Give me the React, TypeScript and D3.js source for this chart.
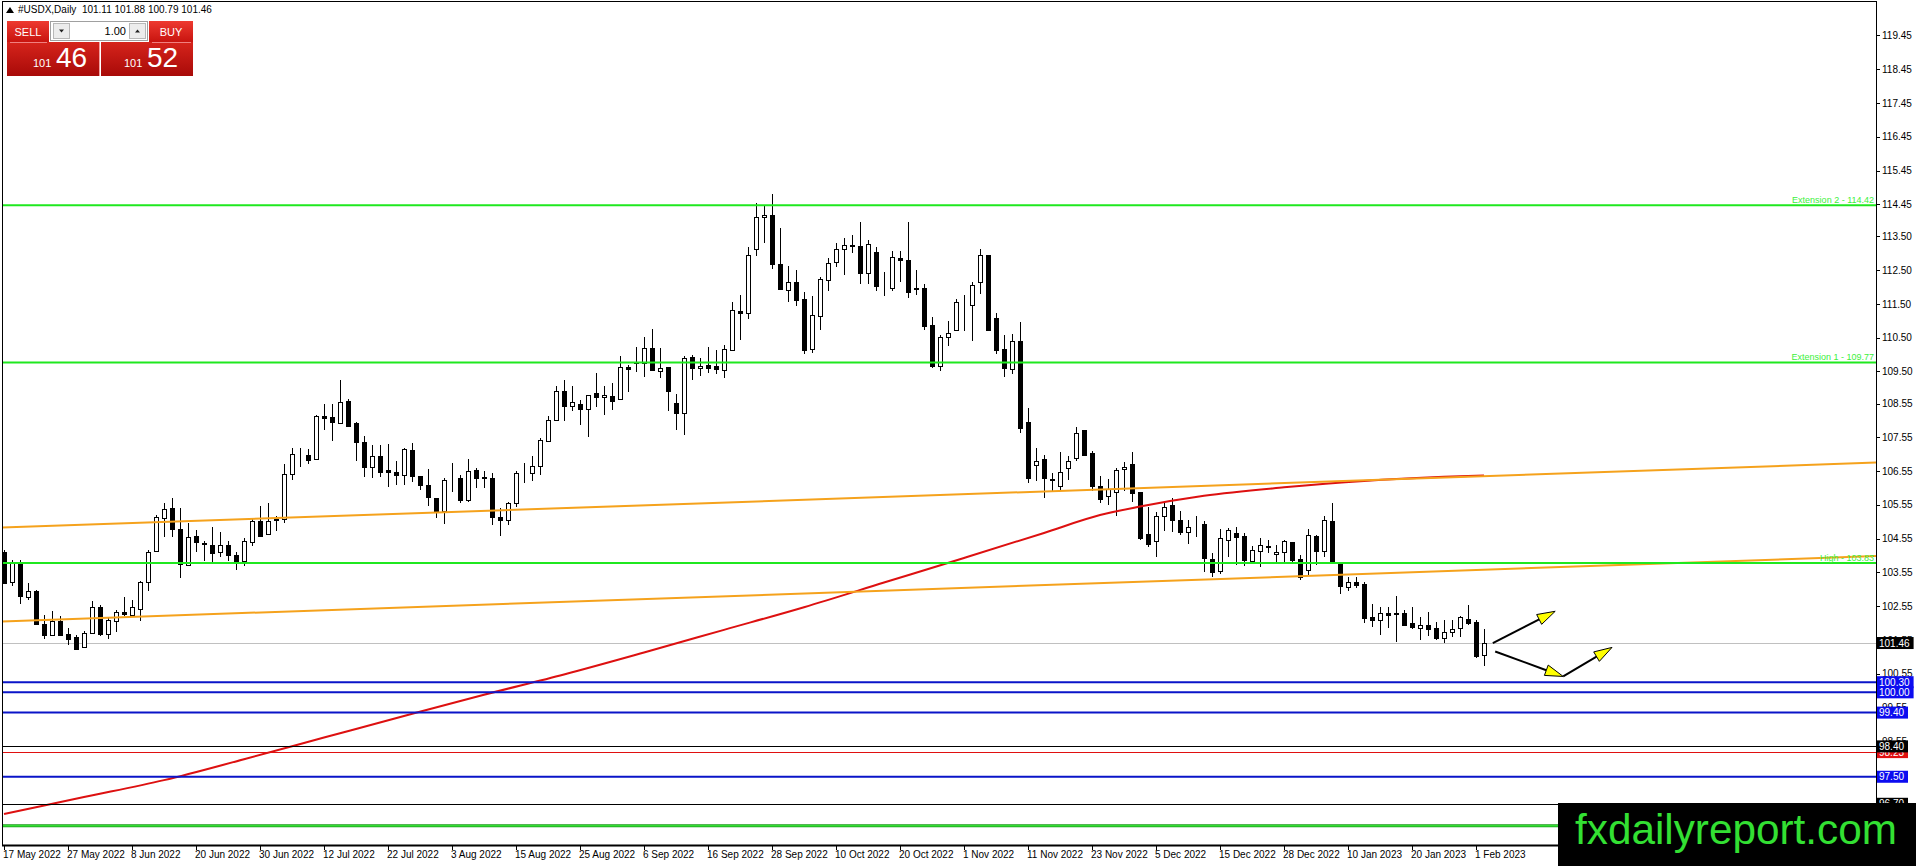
import * as React from 'react';
import * as d3 from 'd3';

// Chart frame (MT4 style window)
const W = 1916
const H = 866
const frame = { left: 2, top: 1, right: 1876, bottom: 845 }
const font = '"Liberation Sans", Arial, sans-serif'

// Daily candles, 17 May 2022 .. 2 Feb 2023 (bar index = position)
const opens = [
  104.17, 103.26, 103.87, 102.82, 103.01, 102.03, 101.70, 102.10, 101.72, 101.64,
  101.33, 101.75, 102.52, 101.72, 102.12, 102.37, 102.28, 102.48, 103.26, 104.19,
  105.15, 105.45, 104.83, 103.76, 104.64, 104.42, 104.36, 104.17, 104.36, 104.07,
  103.90, 104.45, 105.08, 104.68, 105.12, 105.14, 106.46, 107.04, 107.03, 106.92,
  108.19, 108.15, 107.98, 108.62, 107.98, 107.41, 106.66, 107.01, 106.57, 106.52,
  106.43, 107.19, 106.42, 106.15, 105.76, 105.36, 106.31, 106.34, 105.70, 106.59,
  106.38, 106.35, 105.20, 105.10, 105.60, 106.50, 106.48, 106.70, 107.45, 108.05,
  108.93, 108.47, 108.55, 108.39, 108.86, 108.75, 108.78, 108.69, 109.63, 109.77,
  109.75, 110.20, 109.51, 109.63, 108.57, 108.27, 109.93, 109.60, 109.70, 109.65,
  109.54, 110.15, 111.29, 111.23, 113.13, 114.08, 114.12, 112.68, 111.92, 112.15,
  111.66, 110.17, 111.15, 112.22, 112.73, 113.13, 113.24, 113.23, 112.42, 113.04,
  112.04, 111.97, 112.86, 112.81, 111.97, 111.97, 110.89, 109.65, 110.52, 110.74,
  111.50, 111.48, 112.14, 112.96, 111.08, 110.17, 109.57, 110.39, 107.99, 106.74,
  106.91, 106.33, 106.10, 106.64, 106.94, 107.76, 107.09, 106.10, 105.80, 105.92,
  106.61, 106.76, 105.92, 104.69, 104.47, 105.21, 105.55, 105.11, 104.76, 104.96,
  104.99, 103.94, 103.58, 104.52, 104.71, 104.63, 103.90, 104.19, 104.32, 104.10,
  104.15, 104.45, 103.94, 103.63, 104.64, 104.19, 105.08, 103.87, 103.13, 103.28,
  103.21, 102.23, 102.13, 102.34, 102.36, 102.34, 102.05, 101.90, 101.98, 101.90,
  101.60, 101.78, 101.90, 102.18, 102.08, 101.11,
]
const highs = [
  104.20, 103.92, 103.92, 103.24, 103.03, 102.30, 102.42, 102.25, 101.90, 101.70,
  101.83, 102.71, 102.59, 102.23, 102.44, 102.81, 102.74, 103.30, 104.22, 105.26,
  105.60, 105.75, 105.45, 105.01, 104.81, 104.47, 104.91, 104.74, 104.47, 104.16,
  104.57, 105.13, 105.52, 105.60, 105.23, 106.76, 107.23, 107.23, 107.20, 108.22,
  108.55, 108.55, 109.26, 108.70, 108.00, 107.60, 107.31, 107.31, 107.34, 106.85,
  107.24, 107.39, 106.42, 106.62, 105.76, 106.35, 106.79, 106.44, 106.91, 106.64,
  106.55, 106.50, 105.45, 105.65, 106.55, 106.80, 107.00, 107.53, 108.19, 109.08,
  109.26, 109.08, 108.67, 108.81, 109.46, 109.06, 109.16, 109.97, 109.70, 110.23,
  110.52, 110.76, 110.20, 109.63, 108.83, 109.97, 110.00, 109.90, 110.23, 110.15,
  110.27, 111.55, 111.77, 113.18, 114.49, 114.39, 114.77, 113.75, 112.63, 112.52,
  111.85, 111.73, 112.29, 112.86, 113.31, 113.45, 113.55, 113.92, 113.40, 113.19,
  112.44, 113.08, 113.08, 113.92, 112.52, 112.09, 111.11, 110.59, 110.99, 111.66,
  111.76, 112.14, 113.14, 112.96, 111.23, 110.59, 110.61, 110.97, 108.42, 107.24,
  107.04, 106.50, 107.11, 107.01, 107.86, 107.76, 107.14, 106.40, 106.31, 106.64,
  106.82, 107.12, 105.92, 105.48, 105.35, 105.65, 105.75, 105.38, 105.11, 105.23,
  105.06, 104.12, 104.83, 104.86, 104.89, 104.73, 104.32, 104.56, 104.52, 104.37,
  104.52, 104.45, 104.07, 104.83, 104.66, 105.23, 105.60, 103.87, 103.41, 103.41,
  103.28, 102.62, 102.52, 102.52, 102.86, 102.44, 102.52, 102.22, 102.39, 102.07,
  102.15, 102.15, 102.26, 102.59, 102.15, 101.88,
]
const lows = [
  103.20, 103.14, 102.61, 102.74, 101.98, 101.58, 101.68, 101.68, 101.40, 101.24,
  101.31, 101.73, 101.67, 101.58, 101.80, 102.25, 102.25, 102.10, 102.99, 104.17,
  104.59, 104.60, 103.38, 103.76, 104.17, 103.90, 103.87, 104.02, 103.90, 103.61,
  103.73, 104.34, 104.62, 104.66, 104.78, 105.01, 106.29, 106.66, 106.76, 106.89,
  107.78, 107.43, 107.96, 107.88, 106.84, 106.37, 106.34, 106.37, 106.07, 106.15,
  106.15, 106.22, 106.00, 105.51, 105.16, 104.99, 105.92, 105.62, 105.65, 106.05,
  106.05, 104.95, 104.64, 104.95, 105.50, 106.20, 106.25, 106.45, 107.43, 108.03,
  108.03, 108.32, 107.93, 107.56, 108.45, 108.22, 108.35, 108.67, 108.88, 109.48,
  109.33, 109.51, 109.30, 108.32, 107.76, 107.63, 109.24, 109.38, 109.46, 109.44,
  109.31, 110.10, 110.42, 111.06, 112.91, 113.31, 112.54, 111.90, 111.55, 111.43,
  110.03, 110.05, 110.74, 111.89, 112.60, 112.37, 113.00, 112.10, 112.10, 111.87,
  111.73, 111.87, 112.14, 111.68, 111.77, 110.72, 109.60, 109.51, 110.25, 110.69,
  110.69, 110.39, 111.80, 110.69, 110.03, 109.34, 109.43, 107.68, 106.20, 106.25,
  105.75, 105.95, 106.00, 106.30, 106.84, 107.01, 105.95, 105.62, 105.55, 105.21,
  105.95, 105.65, 104.50, 104.29, 104.02, 104.79, 104.74, 104.66, 104.40, 104.61,
  103.55, 103.41, 103.51, 104.02, 103.77, 103.75, 103.84, 103.71, 104.12, 103.82,
  103.82, 103.82, 103.33, 103.43, 103.77, 104.02, 103.82, 102.91, 102.99, 103.10,
  102.05, 101.93, 101.70, 101.90, 101.48, 101.97, 101.88, 101.55, 101.67, 101.55,
  101.46, 101.63, 101.63, 102.00, 101.01, 100.79,
]
const closes = [
  103.23, 103.87, 102.84, 103.01, 102.02, 101.70, 102.10, 101.70, 101.58, 101.29,
  101.75, 102.52, 101.72, 102.15, 102.37, 102.31, 102.52, 103.26, 104.15, 105.19,
  105.43, 104.83, 103.81, 104.61, 104.45, 104.40, 104.14, 104.36, 104.08, 103.90,
  104.47, 105.08, 104.64, 105.08, 105.10, 106.46, 107.05, 107.02, 106.87, 108.19,
  108.13, 108.00, 108.60, 107.90, 107.40, 106.66, 107.01, 106.52, 106.53, 106.43,
  107.21, 106.42, 106.13, 105.78, 105.33, 106.30, 106.33, 105.70, 106.56, 106.34,
  106.35, 105.20, 105.10, 105.60, 106.50, 106.48, 106.70, 107.48, 108.05, 108.93,
  108.49, 108.60, 108.39, 108.81, 108.75, 108.81, 108.62, 109.63, 109.57, 109.74,
  110.20, 109.54, 109.60, 108.91, 108.27, 109.89, 109.60, 109.67, 109.60, 109.57,
  110.17, 111.31, 111.24, 112.96, 114.08, 114.14, 112.68, 111.94, 112.15, 111.61,
  110.13, 111.18, 112.25, 112.71, 113.13, 113.25, 113.23, 112.42, 113.28, 112.04,
  112.02, 112.89, 112.79, 111.84, 111.95, 110.84, 109.65, 110.52, 110.64, 111.56,
  111.50, 112.07, 112.94, 110.74, 110.15, 109.60, 110.39, 107.83, 106.35, 106.84,
  106.35, 106.30, 106.51, 106.84, 107.68, 107.04, 106.10, 105.72, 106.02, 106.59,
  106.67, 105.90, 104.58, 104.39, 105.23, 105.50, 105.09, 104.74, 104.89, 104.94,
  103.97, 103.55, 104.56, 104.81, 104.61, 103.92, 104.20, 104.37, 104.31, 104.17,
  104.47, 103.92, 103.41, 104.66, 104.19, 105.11, 103.87, 103.16, 103.26, 103.18,
  102.20, 102.13, 102.34, 102.29, 102.32, 101.99, 101.93, 101.98, 101.87, 101.60,
  101.78, 101.87, 102.22, 102.05, 101.09, 101.46,
]

// time axis labels, one every 8 bars
const dateLabels = [
  '17 May 2022', '27 May 2022', '8 Jun 2022', '20 Jun 2022', '30 Jun 2022', '12 Jul 2022',
  '22 Jul 2022', '3 Aug 2022', '15 Aug 2022', '25 Aug 2022', '6 Sep 2022', '16 Sep 2022',
  '28 Sep 2022', '10 Oct 2022', '20 Oct 2022', '1 Nov 2022', '11 Nov 2022', '23 Nov 2022',
  '5 Dec 2022', '15 Dec 2022', '28 Dec 2022', '10 Jan 2023', '20 Jan 2023', '1 Feb 2023',
]
const labelStep = 8

// price scale labels
const priceTicks = [
  119.45, 118.45, 117.45, 116.45, 115.45, 114.45, 113.50, 112.50, 111.50, 110.50,
  109.50, 108.55, 107.55, 106.55, 105.55, 104.55, 103.55, 102.55, 101.55, 100.55,
  99.55, 98.55, 97.55, 96.55,
]

// moving average read at a few bars
const maBars = [0, 10, 20, 30, 40, 50, 60, 70, 80, 90, 100, 110, 120, 130, 137, 142, 150, 160, 170, 180, 185]
const maValues = [96.40, 96.90, 97.40, 98.02, 98.66, 99.30, 99.93, 100.53, 101.18, 101.85, 102.52,
  103.25, 103.98, 104.72, 105.25, 105.50, 105.82, 106.07, 106.26, 106.38, 106.42]

// trend lines: two anchors (bar, price)
const upperTrendBars = [0, 185]
const upperTrendPrices = [104.88, 106.40]
const lowerTrendBars = [0, 185]
const lowerTrendPrices = [102.10, 103.63]

// horizontal levels
const greenLevels = [114.42, 109.77, 103.83]
const greenNames = ['Extension 2', 'Extension 1', 'High']
const blueLevels = [100.30, 100.00, 99.40, 97.50]
const blackLevels = [98.40, 96.70]
const redLevels = [98.23]
const baseLevel = 96.05

// arrows: [fromBar, fromPrice, toBar, toPrice]
const arrows = [
  [186.1, 101.46, 193.9, 102.40],
  [186.4, 101.21, 194.9, 100.47],
  [194.9, 100.47, 201.0, 101.33],
]

const symbolText = '#USDX,Daily  101.11 101.88 100.79 101.46'
const bidPrice = ['101', '46']
const askPrice = ['101', '52']
const lotSize = '1.00'

const x = d3.scaleLinear().domain([0, 185]).range([4, 1484])
const y = d3.scaleLinear().domain([95.45, 120.5]).range([846, 0])

const crisp = (v: number) => Math.round(v) + 0.5

const Arrow = ({ a }: { a: number[] }) => {
  const x0 = x(a[0]), y0 = y(a[1]), x1 = x(a[2]), y1 = y(a[3])
  const ang = Math.atan2(y1 - y0, x1 - x0)
  const len = 18, half = 5.5
  const bx = x1 - len * Math.cos(ang), by = y1 - len * Math.sin(ang)
  const px = -Math.sin(ang) * half, py = Math.cos(ang) * half
  const head = `M${x1},${y1}L${bx + px},${by + py}L${bx - px},${by - py}Z`
  return (
    <g>
      <line x1={x0} y1={y0} x2={bx} y2={by} stroke="#000" strokeWidth={2} />
      <path d={head} fill="#ffff00" stroke="#000" strokeWidth={1} />
    </g>
  )
}

const PriceTag = ({ price, bg, fg }: { price: number, bg: string, fg: string }) => {
  const label = price.toFixed(2)
  const w = label.length * 5.6 + 3
  const cy = y(price)
  return (
    <g>
      <rect x={frame.right + 1} y={cy - 6} width={w} height={12} fill={bg} />
      <text x={frame.right + 3} y={cy} dy="0.36em" fill={fg} fontSize={10} fontFamily={font}>{label}</text>
    </g>
  )
}

const trendPath = (bars: number[], prices: number[]) => {
  const slope = (prices[1] - prices[0]) / (bars[1] - bars[0])
  const b0 = x.invert(frame.left), b1 = x.invert(frame.right)
  const p0 = prices[0] + (b0 - bars[0]) * slope
  const p1 = prices[0] + (b1 - bars[0]) * slope
  return `M${frame.left},${y(p0)}L${frame.right},${y(p1)}`
}

const TradePanel = () => (
  <g fontFamily={font}>
    <defs>
      <linearGradient id="redBtn" x1="0" y1="0" x2="0" y2="1">
        <stop offset="0" stopColor="#ee3a30" />
        <stop offset="1" stopColor="#c8140f" />
      </linearGradient>
      <linearGradient id="redBox" x1="0" y1="0" x2="0" y2="1">
        <stop offset="0" stopColor="#d6241c" />
        <stop offset="1" stopColor="#a80a08" />
      </linearGradient>
    </defs>
    <rect x={7} y={21} width={42} height={21} fill="url(#redBtn)" />
    <text x={28} y={35.5} textAnchor="middle" fill="#fff" fontSize={11}>SELL</text>
    <rect x={149} y={21} width={44} height={21} fill="url(#redBtn)" />
    <text x={171} y={35.5} textAnchor="middle" fill="#fff" fontSize={11}>BUY</text>
    <rect x={50.5} y={21.5} width={97} height={19} fill="#fff" stroke="#a0a0a0" />
    <rect x={53.5} y={23.5} width={16} height={15} fill="#ececec" stroke="#b8b8b8" />
    <rect x={129.5} y={23.5} width={16} height={15} fill="#ececec" stroke="#b8b8b8" />
    <path d="M59,29.5L64,29.5L61.5,32.5Z" fill="#222" />
    <path d="M135,32.5L140,32.5L137.5,29.5Z" fill="#222" />
    <text x={126} y={35} textAnchor="end" fill="#000" fontSize={11}>{lotSize}</text>
    <rect x={7} y={42} width={92} height={34} fill="url(#redBox)" />
    <rect x={101} y={42} width={92} height={34} fill="url(#redBox)" />
    <line x1={10} x2={47} y1={42.5} y2={42.5} stroke="#f08080" />
    <line x1={152} x2={191} y1={42.5} y2={42.5} stroke="#f08080" />
    <line x1={99.5} x2={99.5} y1={42} y2={76} stroke="#f0a0a0" />
    <text x={33} y={67} fill="#fff" fontSize={11}>{bidPrice[0]}</text>
    <text x={56} y={67} fill="#fff" fontSize={28}>{bidPrice[1]}</text>
    <text x={124} y={67} fill="#fff" fontSize={11}>{askPrice[0]}</text>
    <text x={147} y={67} fill="#fff" fontSize={28}>{askPrice[1]}</text>
  </g>
)

const App = () => {
  const last = closes[closes.length - 1]
  const ma = d3.line<number>()
    .x((_, i) => x(maBars[i]))
    .y(d => y(d))
    .curve(d3.curveMonotoneX)

  return (
    <div style={{ position: 'absolute', left: 0, top: 0 }}>
      <svg width={W} height={H} style={{ display: 'block', background: '#fff' }}>
        <defs>
          <clipPath id="plot">
            <rect x={frame.left} y={frame.top} width={frame.right - frame.left} height={frame.bottom - frame.top} />
          </clipPath>
        </defs>

        <g clipPath="url(#plot)">
          {/* current price line */}
          <line x1={frame.left} x2={frame.right} y1={crisp(y(last))} y2={crisp(y(last))} stroke="#c0c0c0" />

          {/* candles */}
          <g shapeRendering="crispEdges">
            {opens.map((o, i) => {
              const c = closes[i]
              const cx = Math.round(x(i))
              const top = Math.round(y(Math.max(o, c)))
              const bot = Math.round(y(Math.min(o, c)))
              const bull = c >= o
              return (
                <g key={i}>
                  <line x1={cx + 0.5} x2={cx + 0.5} y1={y(highs[i])} y2={y(lows[i])} stroke="#000" />
                  <rect x={cx - 1.5} y={top + 0.5} width={4} height={Math.max(bot - top, 0)}
                    fill={bull ? '#fff' : '#000'} stroke="#000" />
                </g>
              )
            })}
          </g>

          {/* moving average */}
          <path d={ma(maValues) || ''} fill="none" stroke="#dd1010" strokeWidth={2} />

          {/* trend lines */}
          <path d={trendPath(upperTrendBars, upperTrendPrices)} stroke="#f5a21c" strokeWidth={2} fill="none" />
          <path d={trendPath(lowerTrendBars, lowerTrendPrices)} stroke="#f5a21c" strokeWidth={2} fill="none" />

          {/* horizontal levels */}
          {greenLevels.map((v, i) => (
            <g key={'g' + i}>
              <line x1={frame.left} x2={frame.right} y1={y(v)} y2={y(v)} stroke="#1fe81f" strokeWidth={2} />
              <text x={frame.right - 2} y={y(v) - 2} textAnchor="end" fill="#3cf03c" fontSize={9} fontFamily={font}>
                {greenNames[i] + ' - ' + v.toFixed(2)}
              </text>
            </g>
          ))}
          {blueLevels.map((v, i) => (
            <line key={'b' + i} x1={frame.left} x2={frame.right} y1={y(v)} y2={y(v)} stroke="#0a14c8" strokeWidth={2} />
          ))}
          {blackLevels.map((v, i) => (
            <line key={'k' + i} x1={frame.left} x2={frame.right} y1={crisp(y(v))} y2={crisp(y(v))} stroke="#000" />
          ))}
          {redLevels.map((v, i) => (
            <line key={'r' + i} x1={frame.left} x2={frame.right} y1={crisp(y(v))} y2={crisp(y(v))} stroke="#e01010" />
          ))}
          <line x1={frame.left} x2={frame.right} y1={y(baseLevel)} y2={y(baseLevel)} stroke="#1a9a1a" strokeWidth={3} />
          <line x1={frame.left} x2={frame.right} y1={y(baseLevel)} y2={y(baseLevel)} stroke="#33dd33" strokeWidth={1.4} />

          {/* arrows */}
          {arrows.map((a, i) => <Arrow key={'a' + i} a={a} />)}
        </g>

        {/* frame */}
        <rect x={frame.left + 0.5} y={frame.top + 0.5} width={frame.right - frame.left} height={frame.bottom - frame.top}
          fill="none" stroke="#000" />
        <line x1={frame.left} x2={frame.right} y1={frame.bottom + 0.5} y2={frame.bottom + 0.5} stroke="#000" strokeWidth={2} />

        {/* price axis */}
        <g fontFamily={font} fontSize={10} fill="#000">
          {priceTicks.map((v, i) => (
            <g key={'t' + i}>
              <line x1={frame.right} x2={frame.right + 4} y1={crisp(y(v))} y2={crisp(y(v))} stroke="#000" />
              <text x={frame.right + 6} y={y(v)} dy="0.36em">{v.toFixed(2)}</text>
            </g>
          ))}
        </g>

        {/* time axis */}
        <g fontFamily={font} fontSize={10} fill="#000">
          {dateLabels.map((d, i) => (
            <g key={'d' + i}>
              <line x1={crisp(x(i * labelStep))} x2={crisp(x(i * labelStep))} y1={frame.bottom} y2={frame.bottom + 5} stroke="#000" />
              <text x={x(i * labelStep) - 1} y={858}>{d}</text>
            </g>
          ))}
        </g>

        {/* price tags on the axis */}
        <PriceTag price={last} bg="#000" fg="#fff" />
        {blueLevels.map((v, i) => <PriceTag key={'bt' + i} price={v} bg="#0c0cf0" fg="#fff" />)}
        {redLevels.map((v, i) => <PriceTag key={'rt' + i} price={v} bg="#e01010" fg="#fff" />)}
        {blackLevels.map((v, i) => <PriceTag key={'kt' + i} price={v} bg="#000" fg="#fff" />)}

        {/* header */}
        <path d="M6,13L10,7L14,13Z" fill="#000" />
        <text x={18} y={13} fontFamily={font} fontSize={10} fill="#000" style={{ whiteSpace: 'pre' }}>{symbolText}</text>

        <TradePanel />

        {/* watermark */}
        <rect x={1558} y={803} width={W - 1558} height={H - 803} fill="#000" />
        <text x={1575} y={844} fontFamily={font} fontSize={43} fill="#33e033" textLength={322} lengthAdjust="spacingAndGlyphs">
          fxdailyreport.com
        </text>
      </svg>
    </div>
  )
}

export default App
